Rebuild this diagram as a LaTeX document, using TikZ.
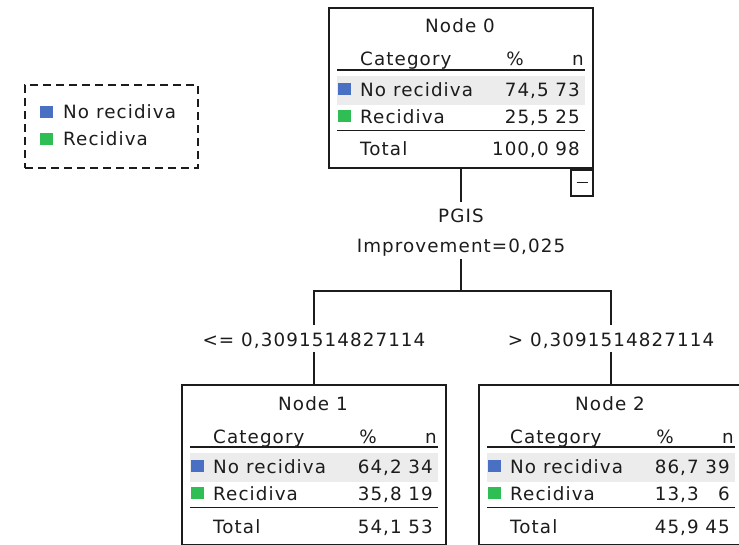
\documentclass[tikz,border=0pt]{standalone}
\usepackage{fontspec}
\setmainfont{DejaVu Sans}[LetterSpace=6]
\definecolor{ink}{RGB}{28,28,28}
\definecolor{cblue}{RGB}{74,112,196}
\definecolor{cgreen}{RGB}{46,190,84}
\definecolor{bandgray}{RGB}{236,236,236}

\tikzset{
  txt/.style={font=\fontsize{18.3}{20}\selectfont, text=ink, inner sep=0pt},
  lbl/.style={txt, anchor=base, text height=15pt, text depth=0pt, inner ysep=6pt},
  treebox/.style={draw=ink, line width=1.7pt, minimum width=264pt, minimum height=160pt, inner sep=0pt},
  swatch/.style={minimum size=12.5pt, inner sep=0pt, anchor=north west},
  hrule/.style={draw=ink, line width=1.9pt},
  conn/.style={draw=ink, line width=1.7pt},
}

% one tree node: name, top-left corner, title, then % and n for each row
\newcommand\treetable[9]{%
  \begin{scope}[shift={#2}]
    \fill[bandgray] (8,68) rectangle (256,97);
    \node[treebox] (#1) at (132,80) {};
    \node[txt,anchor=base] (#1-title) at (131,25) {#3};
    \node[txt,anchor=base west] (#1-cat) at (31,58) {Category};
    \node[txt,anchor=base] (#1-pcth) at (186,58) {\%};
    \node[txt,anchor=base east] (#1-nh) at (255,58) {n};
    \draw[hrule] (8,62) -- (256,62);
    \node[swatch,fill=cblue] (#1-sw1) at (9,74.5) {};
    \node[txt,anchor=base west] (#1-c1) at (31,88.5) {No recidiva};
    \node[txt,anchor=base east] (#1-p1) at (220,88.5) {#4};
    \node[txt,anchor=base east] (#1-n1) at (251,88.5) {#5};
    \node[swatch,fill=cgreen] (#1-sw2) at (9,101.5) {};
    \node[txt,anchor=base west] (#1-c2) at (31,115.5) {Recidiva};
    \node[txt,anchor=base east] (#1-p2) at (220,115.5) {#6};
    \node[txt,anchor=base east] (#1-n2) at (251,115.5) {#7};
    \draw[hrule] (8,122.5) -- (256,122.5);
    \node[txt,anchor=base west] (#1-ct) at (31,148) {Total};
    \node[txt,anchor=base east] (#1-pt) at (220,148) {#8};
    \node[txt,anchor=base east] (#1-nt) at (251,148) {#9};
  \end{scope}}

\begin{document}
\begin{tikzpicture}[x=1pt,y=-1pt]
  \useasboundingbox[fill=white] (0,0) rectangle (739,545);

  % legend
  \node[draw=ink, dash pattern=on 8pt off 5pt, line width=1.6pt,
        minimum width=173pt, minimum height=83pt, inner sep=0pt] (key) at (111.5,126.5) {};
  \node[swatch,fill=cblue] (key-sw1) at (40,105.5) {};
  \node[txt,anchor=base west] (key-t1) at (63,119) {No recidiva};
  \node[swatch,fill=cgreen] (key-sw2) at (40,132.5) {};
  \node[txt,anchor=base west] (key-t2) at (63,146) {Recidiva};

  % tree nodes
  \treetable{n0}{(329,8)}{Node 0}{74,5}{73}{25,5}{25}{100,0}{98}
  \treetable{n1}{(182,385)}{Node 1}{64,2}{34}{35,8}{19}{54,1}{53}
  \treetable{n2}{(479,385)}{Node 2}{86,7}{39}{13,3}{6}{45,9}{45}

  % collapse button
  \node[draw=ink, line width=1.7pt, minimum width=22pt, minimum height=26pt,
        inner sep=0pt, anchor=north east, fill=white] (n0-fold) at (n0.south east)
        {\textcolor{ink}{\rule{11pt}{1.5pt}}};

  % split labels
  \node[lbl] (split) at (461,223) {PGIS};
  \node[lbl] (gain) at (461,253) {Improvement=0,025};
  \node[lbl] (le) at (314,346) {<= 0,3091514827114};
  \node[lbl] (ri) at (611,346) {> 0,3091514827114};
  \coordinate (fork) at (461,291);

  % connectors
  \draw[conn] (n0) -- (split);
  \draw[conn] (gain) -- (fork);
  \draw[conn] (le.north) |- (fork) -| (ri.north);
  \draw[conn] (le) -- (n1);
  \draw[conn] (ri) -- (n2);
\end{tikzpicture}
\end{document}
